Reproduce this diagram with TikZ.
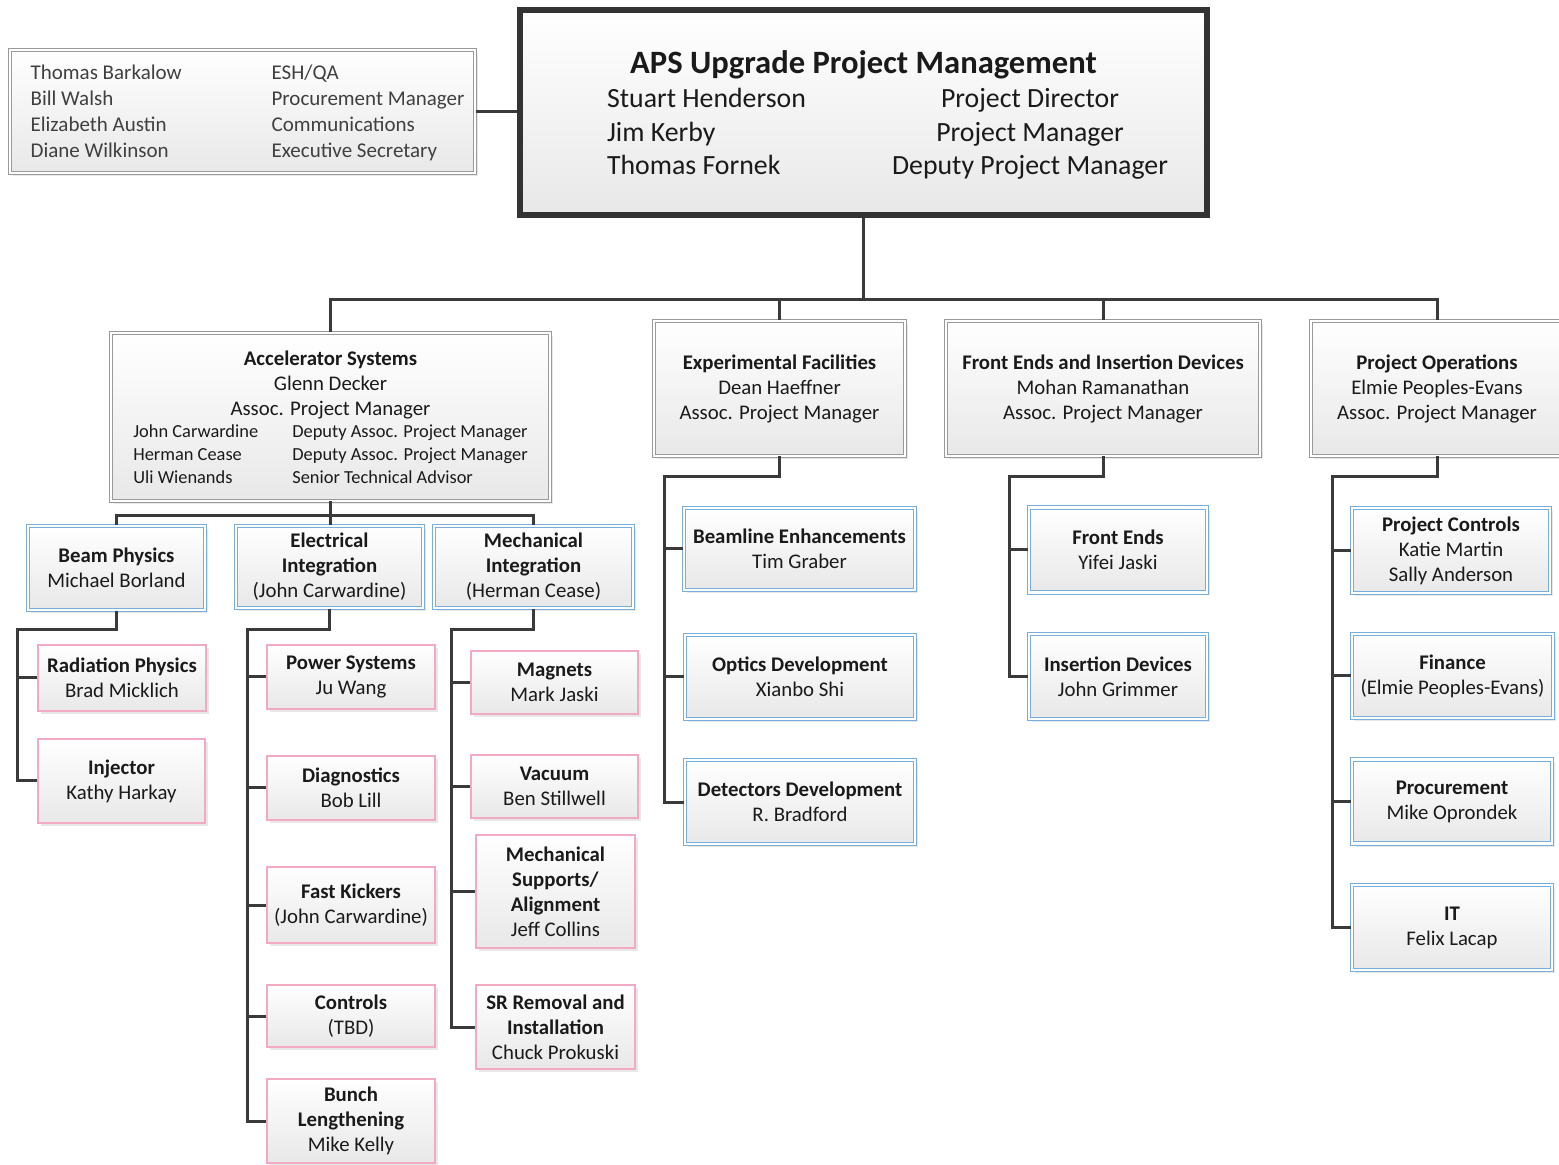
\documentclass[tikz,border=0pt]{standalone}
\usepackage{fontspec}
\setmainfont{Carlito}
\usetikzlibrary{shadows}
\definecolor{txt}{HTML}{1A1A1A}
\definecolor{staffcol}{HTML}{404040}
\definecolor{boxbot}{HTML}{E8E8E8}
\definecolor{grayln}{HTML}{9A9A9A}
\definecolor{blueln}{HTML}{78AEDD}
\definecolor{pinkln}{HTML}{F2AAC4}
\definecolor{lncol}{HTML}{3A3A3A}
\definecolor{darkln}{HTML}{333333}
\tikzset{
  sz/.style 2 args={minimum width={(#1)*0.5pt}, minimum height={(#2)*0.5pt}},
  basebox/.style={inner sep=0pt, align=center, text=txt,
    font=\fontsize{10.4}{12.5}\selectfont,
    top color=white, bottom color=boxbot,
    drop shadow={shadow xshift=1.5pt, shadow yshift=-1.5pt, opacity=0.25, fill=gray!70}},
  graybox/.style={basebox, draw=grayln, line width=0.5pt, double=white, double distance=1.2pt},
  bluebox/.style={basebox, draw=blueln, line width=0.6pt, double=white, double distance=1.2pt},
  pinkbox/.style={basebox, draw=pinkln, line width=0.8pt},
  pmbox/.style={basebox, draw=darkln, line width=3pt},
  link/.style={draw=lncol, line width=1.5pt},
}
\begin{document}
\begin{tikzpicture}[x=0.5pt,y=-0.5pt]
\fill[white] (0,0) rectangle (1559,1165);
\useasboundingbox (0,0) rectangle (1559,1165);

% top level
\node[graybox, sz={465}{123}, text=staffcol, font=\fontsize{10.5}{12.9}\selectfont] (staff) at (242.5,111.5)
  {\rule{0pt}{30.5pt}\begin{tabular}{@{\hspace{5pt}}p{120.5pt}@{}l@{}}Thomas Barkalow & ESH/QA\\ Bill Walsh & Procurement Manager\\ Elizabeth Austin & Communications\\ Diane Wilkinson & Executive Secretary\end{tabular}};
\node[pmbox, sz={687}{205}, font=\fontsize{13.9}{16.75}\selectfont] (pm) at (863.5,112.5)
  {\rule{0pt}{17pt}{\fontsize{16.3}{18}\selectfont\bfseries APS Upgrade Project Management}\\[1.5pt]
   \begin{tabular}{@{\hspace{24pt}}p{142.5pt}@{}c@{}}Stuart Henderson & Project Director\\ Jim Kerby & Project Manager\\ Thomas Fornek & Deputy Project Manager\end{tabular}};

% second level
\node[graybox, sz={439}{168}] (acc) at (330.5,417)
  {\rule{0pt}{11pt}\textbf{Accelerator Systems}\\Glenn Decker\\Assoc. Project Manager\\[0pt]
   {\fontsize{9.2}{11.5}\selectfont\begin{tabular}{@{}p{79.5pt}@{}l@{}}John Carwardine & Deputy Assoc. Project Manager\\ Herman Cease & Deputy Assoc. Project Manager\\ Uli Wienands & Senior Technical Advisor\end{tabular}}};
\node[graybox, sz={251}{135}] (ef) at (779.5,388.5) {\textbf{Experimental Facilities}\\Dean Haeffner\\Assoc. Project Manager};
\node[graybox, sz={314}{135}] (fe) at (1103,388.5) {\textbf{Front Ends and Insertion Devices}\\Mohan Ramanathan\\Assoc. Project Manager};
\node[graybox, sz={252}{135}] (po) at (1437,388.5) {\textbf{Project Operations}\\Elmie Peoples-Evans\\Assoc. Project Manager};

% accelerator systems groups
\node[bluebox, sz={177}{84}] (bp) at (116.5,568) {\textbf{Beam Physics}\\Michael Borland};
\node[bluebox, sz={187}{82}] (ei) at (329.5,567) {\textbf{Electrical}\\\textbf{Integration}\\(John Carwardine)};
\node[bluebox, sz={199}{82}] (mi) at (533.5,567) {\textbf{Mechanical}\\\textbf{Integration}\\(Herman Cease)};

\node[pinkbox, sz={168}{66}] (rp) at (122,678) {\textbf{Radiation Physics}\\Brad Micklich};
\node[pinkbox, sz={167}{84}] (inj) at (121.5,781) {\textbf{Injector}\\Kathy Harkay};

\node[pinkbox, sz={168}{64}] (ps) at (351,677) {\textbf{Power Systems}\\Ju Wang};
\node[pinkbox, sz={168}{64}] (dg) at (351,788) {\textbf{Diagnostics}\\Bob Lill};
\node[pinkbox, sz={168}{76}] (fk) at (351,905) {\textbf{Fast Kickers}\\(John Carwardine)};
\node[pinkbox, sz={168}{62}] (ct) at (351,1016) {\textbf{Controls}\\(TBD)};
\node[pinkbox, sz={168}{84}] (bl) at (351,1121) {\textbf{Bunch}\\\textbf{Lengthening}\\Mike Kelly};

\node[pinkbox, sz={167}{63}] (mg) at (554.5,682.5) {\textbf{Magnets}\\Mark Jaski};
\node[pinkbox, sz={167}{63}] (vc) at (554.5,786.5) {\textbf{Vacuum}\\Ben Stillwell};
\node[pinkbox, sz={159}{113}] (ms) at (555.5,891.5) {\textbf{Mechanical}\\\textbf{Supports/}\\\textbf{Alignment}\\Jeff Collins};
\node[pinkbox, sz={159}{84}] (sr) at (555.5,1027) {\textbf{SR Removal and}\\\textbf{Installation}\\Chuck Prokuski};

% experimental facilities
\node[bluebox, sz={231}{82}] (be) at (799.5,549) {\textbf{Beamline Enhancements}\\Tim Graber};
\node[bluebox, sz={230}{84}] (od) at (800,677) {\textbf{Optics Development}\\Xianbo Shi};
\node[bluebox, sz={230}{84}] (dd) at (800,802) {\textbf{Detectors Development}\\R. Bradford};

% front ends
\node[bluebox, sz={178}{85}] (fr) at (1118,550) {\textbf{Front Ends}\\Yifei Jaski};
\node[bluebox, sz={178}{85}] (idv) at (1118,676.5) {\textbf{Insertion Devices}\\John Grimmer};

% project operations
\node[bluebox, sz={198}{85}] (pc) at (1451,550.5) {\textbf{Project Controls}\\Katie Martin\\Sally Anderson};
\node[bluebox, sz={201}{84}] (fi) at (1452.5,676) {\textbf{Finance}\\(Elmie Peoples-Evans)};
\node[bluebox, sz={200}{84}] (pr) at (1452,801.5) {\textbf{Procurement}\\Mike Oprondek};
\node[bluebox, sz={200}{85}] (it) at (1452,927.5) {\textbf{IT}\\Felix Lacap};

% connectors
\coordinate (bus1) at (0,300);
\draw[link] (staff.east) -- (staff.east -| pm.west);
\draw[link] (pm.south) -- (pm.south |- bus1);
\draw[link] (acc.north) -- (acc.north |- bus1) -- (po.north |- bus1) -- (po.north);
\draw[link] (ef.north) -- (ef.north |- bus1);
\draw[link] (fe.north) -- (fe.north |- bus1);

\draw[link] (acc.south) -- (acc.south |- ei.north);
\draw[link] (bp.north) -- ++(0,-10) -| (mi.north);

\coordinate (bpk) at (17,630);
\draw[link] (bp.south) |- (bpk) |- (inj.west);
\draw[link] (bpk |- rp.west) -- (rp.west);

\coordinate (eik) at (247,630);
\draw[link] (ei.south) |- (eik) |- (bl.west);
\foreach \n in {ps,dg,fk,ct} \draw[link] (eik |- \n.west) -- (\n.west);

\coordinate (mik) at (451,630);
\draw[link] (mi.south) |- (mik) |- (sr.west);
\foreach \n in {mg,vc,ms} \draw[link] (mik |- \n.west) -- (\n.west);

\coordinate (efk) at (664,477);
\draw[link] (ef.south) |- (efk) |- (dd.west);
\foreach \n in {be,od} \draw[link] (efk |- \n.west) -- (\n.west);

\coordinate (fek) at (1009,477);
\draw[link] (fe.south) |- (fek) |- (idv.west);
\draw[link] (fek |- fr.west) -- (fr.west);

\coordinate (pok) at (1332,477);
\draw[link] (po.south) |- (pok) |- (it.west);
\foreach \n in {pc,fi,pr} \draw[link] (pok |- \n.west) -- (\n.west);
\end{tikzpicture}
\end{document}
